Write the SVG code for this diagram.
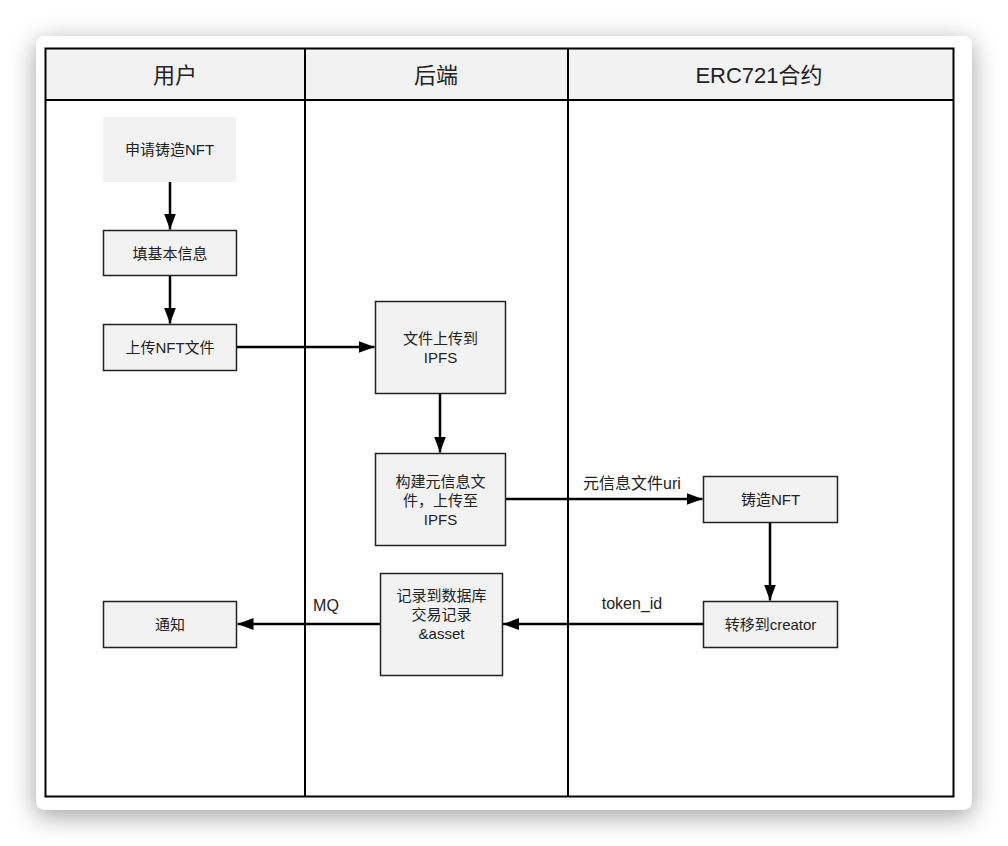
<svg xmlns="http://www.w3.org/2000/svg" width="1008" height="846" viewBox="0 0 1008 846">
<defs>
<filter id="shadow" x="-10%" y="-10%" width="120%" height="125%">
<feDropShadow dx="0" dy="6" stdDeviation="13" flood-color="#000" flood-opacity="0.38"/>
</filter>
<marker id="arr" viewBox="0 0 16 12" refX="16" refY="6" markerWidth="16" markerHeight="12" markerUnits="userSpaceOnUse" orient="auto">
<path d="M0,0 L16,6 L0,12 Z" fill="#000"/>
</marker>
<style>
text{font-family:"Liberation Sans","Noto Sans CJK SC",sans-serif;fill:#222;text-anchor:middle;dominant-baseline:central}
.node rect{fill:#f2f2f2;stroke:#222;stroke-width:1.5}
.node text{font-size:15px}
.hdr{font-size:22px}
.lbl{font-size:16px}
.conn path{stroke:#000;stroke-width:2.5;fill:none;marker-end:url(#arr)}
.lane{stroke:#000;stroke-width:2;fill:none}
</style>
</defs>
<rect x="0" y="0" width="1008" height="846" fill="#fff"/>
<rect x="36" y="36" width="936" height="774" rx="9" fill="#fff" filter="url(#shadow)"/>
<g id="lanes">
<rect x="45.5" y="48.5" width="908" height="52" fill="#f2f2f2"/>
<rect x="45.5" y="48.5" width="908" height="748" class="lane" stroke-width="1.5"/>
<line x1="45.5" y1="100" x2="953.5" y2="100" class="lane" stroke-width="1.5"/>
<line x1="305" y1="48.5" x2="305" y2="796.5" class="lane"/>
<line x1="568" y1="48.5" x2="568" y2="796.5" class="lane"/>
<text x="175" y="75" class="hdr">用户</text>
<text x="436" y="75" class="hdr">后端</text>
<text x="759" y="75" class="hdr">ERC721合约</text>
</g>
<g id="connectors" class="conn">
<path d="M170,181.5 V229.5"/>
<path d="M170,276 V323.5"/>
<path d="M237,347 H374.5"/>
<path d="M440,394 V452.5"/>
<path d="M506,499 H702.5"/>
<path d="M770,523 V600.5"/>
<path d="M703,624 H503"/>
<path d="M380.5,624 H237.5"/>
</g>
<g id="labels">
<text x="632" y="483" class="lbl">元信息文件uri</text>
<text x="632" y="603" class="lbl">token_id</text>
<text x="326" y="605" class="lbl">MQ</text>
</g>
<g id="n1" class="node"><rect x="103" y="117" width="133" height="65" style="stroke:none"/><text x="169.5" y="149.5">申请铸造NFT</text></g>
<g id="n2" class="node"><rect x="103.5" y="230.5" width="133" height="45"/><text x="170" y="253">填基本信息</text></g>
<g id="n3" class="node"><rect x="103.5" y="324.5" width="133" height="46"/><text x="170" y="347.5">上传NFT文件</text></g>
<g id="n4" class="node"><rect x="375.5" y="301.5" width="130" height="92"/><text x="440.5" y="338">文件上传到</text><text x="440.5" y="357">IPFS</text></g>
<g id="n5" class="node"><rect x="375.5" y="453.5" width="130" height="92"/><text x="440.5" y="481">构建元信息文</text><text x="440.5" y="500">件，上传至</text><text x="440.5" y="519">IPFS</text></g>
<g id="n6" class="node"><rect x="380.5" y="573.5" width="122" height="102"/><text x="441.5" y="595">记录到数据库</text><text x="441.5" y="614">交易记录</text><text x="441.5" y="633">&amp;asset</text></g>
<g id="n7" class="node"><rect x="703.5" y="476.5" width="134" height="46"/><text x="770.5" y="499.5">铸造NFT</text></g>
<g id="n8" class="node"><rect x="703.5" y="601.5" width="134" height="46"/><text x="770.5" y="624.5">转移到creator</text></g>
<g id="n9" class="node"><rect x="103.5" y="601.5" width="133" height="46"/><text x="170" y="624.5">通知</text></g>
</svg>
